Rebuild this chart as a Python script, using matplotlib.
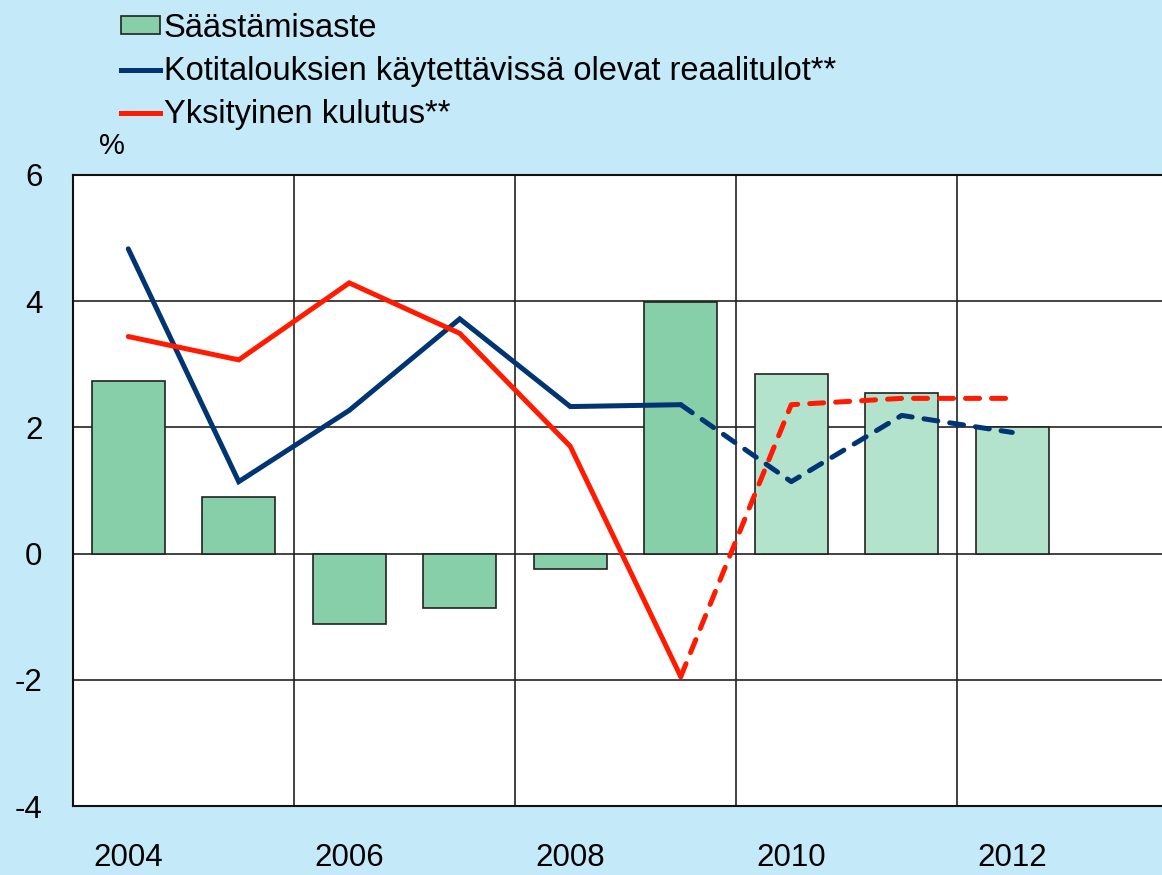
import matplotlib
matplotlib.use('Agg')
import matplotlib.pyplot as plt
import numpy as np
from matplotlib.patches import Patch
from matplotlib.lines import Line2D

plt.rcParams['font.family'] = ['Liberation Sans', 'DejaVu Sans']

vuodet = np.arange(2004, 2013)
saastamisaste = [2.73, 0.89, -1.11, -0.87, -0.24, 3.98, 2.84, 2.55, 2.01]
reaalitulot = [4.83, 1.14, 2.27, 3.72, 2.33, 2.36, 1.14, 2.19, 1.92]
kulutus = [3.44, 3.07, 4.29, 3.49, 1.70, -1.95, 2.36, 2.46, 2.46]
ennuste_alku = 2009  # tästä eteenpäin ennuste (katkoviiva, vaalea pylväs)

tausta = '#c4e9f8'
vihrea = '#86cfa8'
vihrea_vaalea = '#b3e2cd'
sininen = '#003473'
punainen = '#ff1a00'
lw = 3.6
katko = (0, (2.8, 2.4))

fig = plt.figure(figsize=(11.62, 8.75), dpi=100, facecolor=tausta)

ax = fig.add_axes([73 / 1162, 69 / 875, 1.0 - 73 / 1162 + 0.02, (806 - 175) / 875])
ax.set_facecolor('white')

x = np.arange(len(vuodet))
varit = [vihrea if v <= ennuste_alku else vihrea_vaalea for v in vuodet]
ax.bar(x, saastamisaste, width=0.66, color=varit, edgecolor='#222222', linewidth=1.2, zorder=3)

k = list(vuodet).index(ennuste_alku)
ax.plot(x[:k + 1], reaalitulot[:k + 1], color=sininen, lw=lw, zorder=4,
        solid_capstyle='round', solid_joinstyle='miter')
ax.plot(x[k:], reaalitulot[k:], color=sininen, lw=lw, ls=katko, zorder=4,
        dash_capstyle='round')
ax.plot(x[:k + 1], kulutus[:k + 1], color=punainen, lw=lw, zorder=4,
        solid_capstyle='round', solid_joinstyle='miter')
ax.plot(x[k:], kulutus[k:], color=punainen, lw=lw, ls=katko, zorder=4,
        dash_capstyle='round')

ax.set_ylim(-4, 6)
ax.set_xlim(-0.5, 9.355 + 0.02 * 1162 / 110.5)
ax.set_yticks([-4, -2, 0, 2, 4, 6])
ax.set_yticklabels(['-4', '-2', '0', '2', '4', '6'])
ax.set_xticks(x[::2])
ax.set_xticklabels([str(v) for v in vuodet[::2]])
ax.tick_params(axis='y', length=0, pad=22, labelsize=22.5)
ax.tick_params(axis='x', length=0, pad=27, labelsize=22.5)

for yy in [-2, 0, 2, 4]:
    ax.axhline(yy, color='#222222', lw=1.2, zorder=1)
for xx in [1.5, 3.5, 5.5, 7.5]:
    ax.axvline(xx, color='#222222', lw=1.2, zorder=1)
for s in ['left', 'top', 'bottom']:
    ax.spines[s].set_linewidth(1.5)
    ax.spines[s].set_color('#111111')
ax.spines['right'].set_visible(False)

fig.text(99 / 1162, 1 - 146 / 875, '%', fontsize=21, va='center', ha='left')

kahvat = [Patch(facecolor=vihrea, edgecolor='#222222', linewidth=1.2),
          Line2D([], [], color=sininen, lw=lw),
          Line2D([], [], color=punainen, lw=lw)]
nimet = ['Säästämisaste', 'Kotitalouksien käytettävissä olevat reaalitulot**',
         'Yksityinen kulutus**']
fig.legend(kahvat, nimet, loc='upper left', bbox_to_anchor=(101 / 1162, 1.008),
           frameon=False, fontsize=23.5, handlelength=1.2, handleheight=0.45,
           handletextpad=0.12, labelspacing=0.38, borderaxespad=0.2)

fig.savefig('out.png', dpi=100, facecolor=tausta)
